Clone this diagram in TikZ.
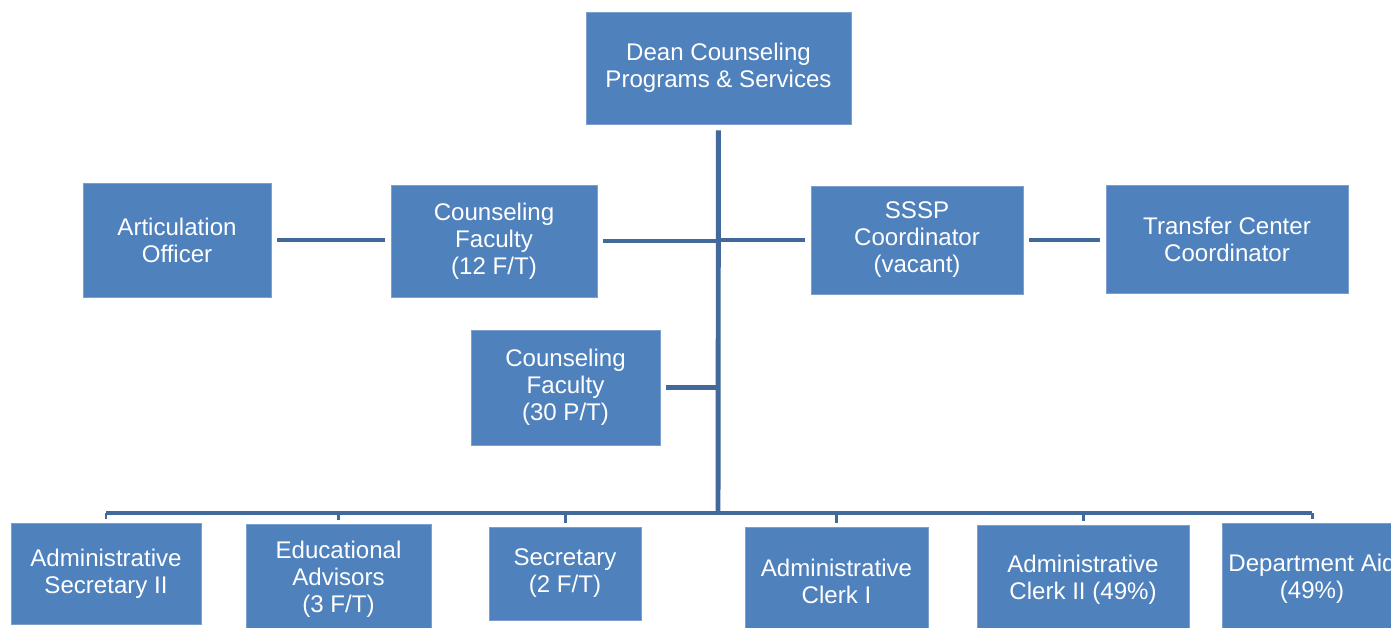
\documentclass[tikz,border=0pt]{standalone}
\usepackage{fontspec}
\setmainfont{Liberation Sans}
\definecolor{boxblue}{HTML}{4F81BD}
\definecolor{lineblue}{HTML}{41699B}
\tikzset{
  unit/.style={fill=boxblue, draw=boxblue!75!white, line width=0.4pt, text=white,
    align=center, inner sep=0pt, font=\fontsize{13.7}{15.4}\selectfont},
  link/.style={draw=lineblue, line width=2.8pt, shorten <=0.12cm, shorten >=0.12cm},
  busline/.style={draw=lineblue, line width=2.3pt},
  tickline/.style={draw=lineblue, line width=1.7pt, shorten >=0.08cm},
}
\begin{document}
\begin{tikzpicture}[x=0.02cm, y=-0.02cm]
\useasboundingbox (0,0) rectangle (1391,627);
\clip (0,0) rectangle (1391,627);

% top and middle levels
\node[unit, minimum width=5.3cm, minimum height=2.24cm] (dean) at (718.5,68) {Dean Counseling\\Programs \& Services};
\node[unit, minimum width=3.76cm, minimum height=2.28cm] (artic) at (177,240) {Articulation\\Officer};
\node[unit, minimum width=4.12cm, minimum height=2.24cm] (cfft) at (494,241) {Counseling\\Faculty\\(12 F/T)};
\node[unit, minimum width=4.24cm, minimum height=2.16cm] (sssp) at (917,240) {SSSP\\Coordinator\\(vacant)};
\node[unit, minimum width=4.84cm, minimum height=2.16cm] (transfer) at (1227,239) {Transfer Center\\Coordinator};
\node[unit, minimum width=3.78cm, minimum height=2.3cm] (cfpt) at (565.5,387.5) {Counseling\\Faculty\\(30 P/T)};

% bottom row
\node[unit, minimum width=3.8cm, minimum height=2.02cm] (adsec) at (106,573.5) {Administrative\\Secretary II};
\node[unit, minimum width=3.7cm, minimum height=2.2cm] (edadv) at (338.5,579) {Educational\\Advisors\\(3 F/T)};
\node[unit, minimum width=3.04cm, minimum height=1.86cm] (secr) at (565,573.5) {Secretary\\(2 F/T)};
\node[unit, minimum width=3.66cm, minimum height=2.16cm] (clerka) at (836.5,581) {Administrative\\Clerk I};
\node[unit, minimum width=4.24cm, minimum height=2.2cm] (clerkb) at (1083,580) {Administrative\\Clerk II (49\%)};
\node[unit, minimum width=3.6cm, minimum height=2.24cm] (aid) at (1312,579) {Department Aid\\(49\%)};

\coordinate (hub) at (718,513);

% trunk and side branches
\draw[link, shorten >=0pt] (dean) -- (hub);
\draw[link] (artic.east) -- (artic.east -| cfft.west);
\draw[link, shorten >=0pt] (cfft.east) -- (cfft.east -| hub);
\draw[link, shorten <=0pt] (sssp.west -| hub) -- (sssp.west);
\draw[link] (sssp.east) -- (sssp.east -| transfer.west);
\draw[link, shorten >=0pt] (cfpt.east) -- (cfpt.east -| hub);

% bus to the staff row
\draw[busline] (adsec.north |- hub) -- (aid.north |- hub);
\foreach \n in {adsec, edadv, secr, clerka, clerkb, aid}
  \draw[tickline] (\n.north |- hub) -- (\n.north);

\end{tikzpicture}
\end{document}
